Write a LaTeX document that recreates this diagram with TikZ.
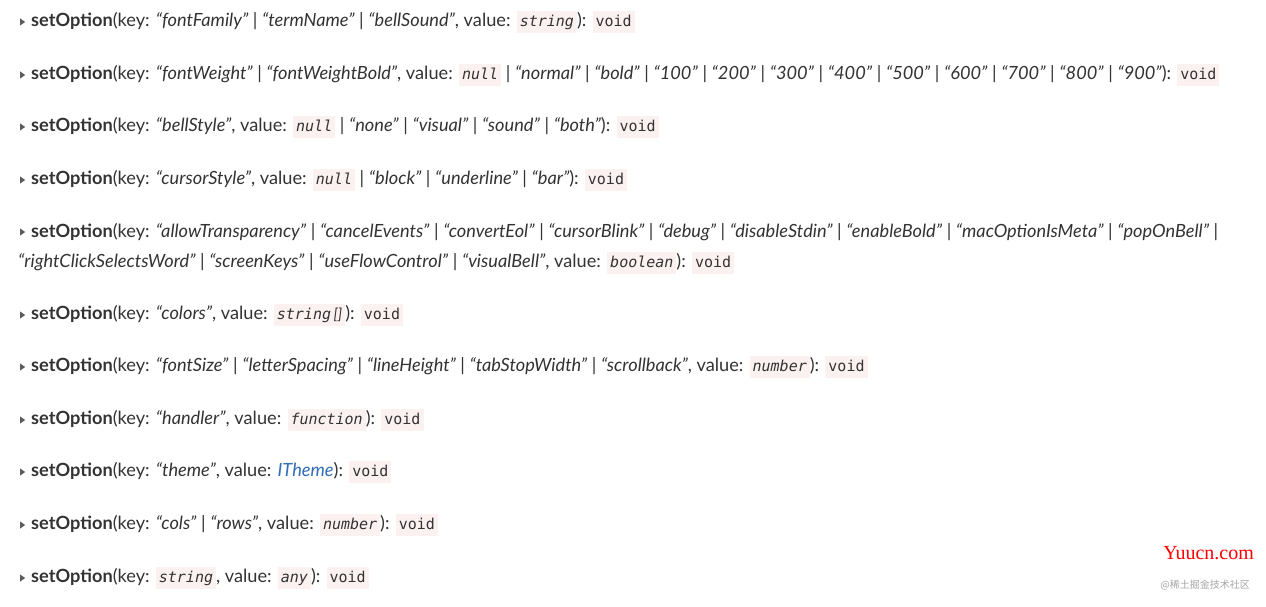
\documentclass[tikz,border=0pt]{standalone}
\usepackage{fontspec}
\setmainfont{Lato}
\setmonofont{DejaVu Sans Mono}
\newfontfamily\cjkfont{Noto Sans CJK SC}
\newfontfamily\wmfont{Liberation Serif}
\usetikzlibrary{shapes.geometric, positioning}
\definecolor{codebg}{HTML}{FBF1F1}
\definecolor{txt}{HTML}{333333}
\definecolor{linkblue}{HTML}{2F6DB5}
\newcommand{\q}[1]{\textit{“#1”}}
\newcommand{\sep}{\ \textbar\ }
\newcommand{\cbox}[1]{{\setlength{\fboxsep}{3pt}\colorbox{codebg}{\vphantom{Ag}#1}}}
\newcommand{\ty}[1]{\cbox{\ttfamily\itshape\fontsize{15}{17}\selectfont #1}}
\newcommand{\vd}{\cbox{\ttfamily\fontsize{15}{17}\selectfont void}}
\newcommand{\so}{\textbf{setOption}(key: }
\tikzset{
    row/.style={anchor=west, inner sep=0pt, text=txt, font=\fontsize{18.2}{26}\selectfont, align=left},
    tri/.style={isosceles triangle, fill=txt!80, minimum width=7pt, minimum height=5pt, inner sep=0pt, isosceles triangle apex angle=70},
}
\begin{document}
\begin{tikzpicture}[x=1pt,y=1pt]
\useasboundingbox[fill=white] (0,0) rectangle (1266,-607);
% rows
\node[tri] (t1) at (22,-22) {};
\node[row] (r1) at (31,-22) {\so\q{fontFamily}\sep\q{termName}\sep\q{bellSound}, value: \ty{string}): \vd};
\node[tri] (t2) at (22,-75) {};
\node[row] (r2) at (31,-75) {\so\q{fontWeight}\sep\q{fontWeightBold}, value: \ty{null}\sep\q{normal}\sep\q{bold}\sep\q{100}\sep\q{200}\sep\q{300}\sep\q{400}\sep\q{500}\sep\q{600}\sep\q{700}\sep\q{800}\sep\q{900}): \vd};
\node[tri] (t3) at (22,-127) {};
\node[row] (r3) at (31,-127) {\so\q{bellStyle}, value: \ty{null}\sep\q{none}\sep\q{visual}\sep\q{sound}\sep\q{both}): \vd};
\node[tri] (t4) at (22,-180) {};
\node[row] (r4) at (31,-180) {\so\q{cursorStyle}, value: \ty{null}\sep\q{block}\sep\q{underline}\sep\q{bar}): \vd};
\node[tri] (t5) at (22,-232) {};
\node[row] (r5) at (31,-232) {\so\q{allowTransparency}\sep\q{cancelEvents}\sep\q{convertEol}\sep\q{cursorBlink}\sep\q{debug}\sep\q{disableStdin}\sep\q{enableBold}\sep\q{macOptionIsMeta}\sep\q{popOnBell}\sep};
\node[row] (r5b) at (18,-263) {\q{rightClickSelectsWord}\sep\q{screenKeys}\sep\q{useFlowControl}\sep\q{visualBell}, value: \ty{boolean}): \vd};
\node[tri] (t6) at (22,-315) {};
\node[row] (r6) at (31,-315) {\so\q{colors}, value: \ty{string\,\textrm{[]}}): \vd};
\node[tri] (t7) at (22,-367) {};
\node[row] (r7) at (31,-367) {\so\q{fontSize}\sep\q{letterSpacing}\sep\q{lineHeight}\sep\q{tabStopWidth}\sep\q{scrollback}, value: \ty{number}): \vd};
\node[tri] (t8) at (22,-420) {};
\node[row] (r8) at (31,-420) {\so\q{handler}, value: \ty{function}): \vd};
\node[tri] (t9) at (22,-472) {};
\node[row] (r9) at (31,-472) {\so\q{theme}, value: \textcolor{linkblue}{\textit{ITheme}}): \vd};
\node[tri] (t10) at (22,-525) {};
\node[row] (r10) at (31,-525) {\so\q{cols}\sep\q{rows}, value: \ty{number}): \vd};
\node[tri] (t11) at (22,-578) {};
\node[row] (r11) at (31,-578) {\so\ty{string}, value: \ty{any}): \vd};
% watermark
\node[anchor=east, inner sep=0pt, text=red, font=\wmfont\fontsize{20}{22}\selectfont] (wm) at (1254,-553) {Yuucn.com};
\node[anchor=east, inner sep=0pt, text=gray!70, font=\cjkfont\fontsize{10}{12}\selectfont] (jj) at (1250,-585) {@稀土掘金技术社区};
\end{tikzpicture}
\end{document}
